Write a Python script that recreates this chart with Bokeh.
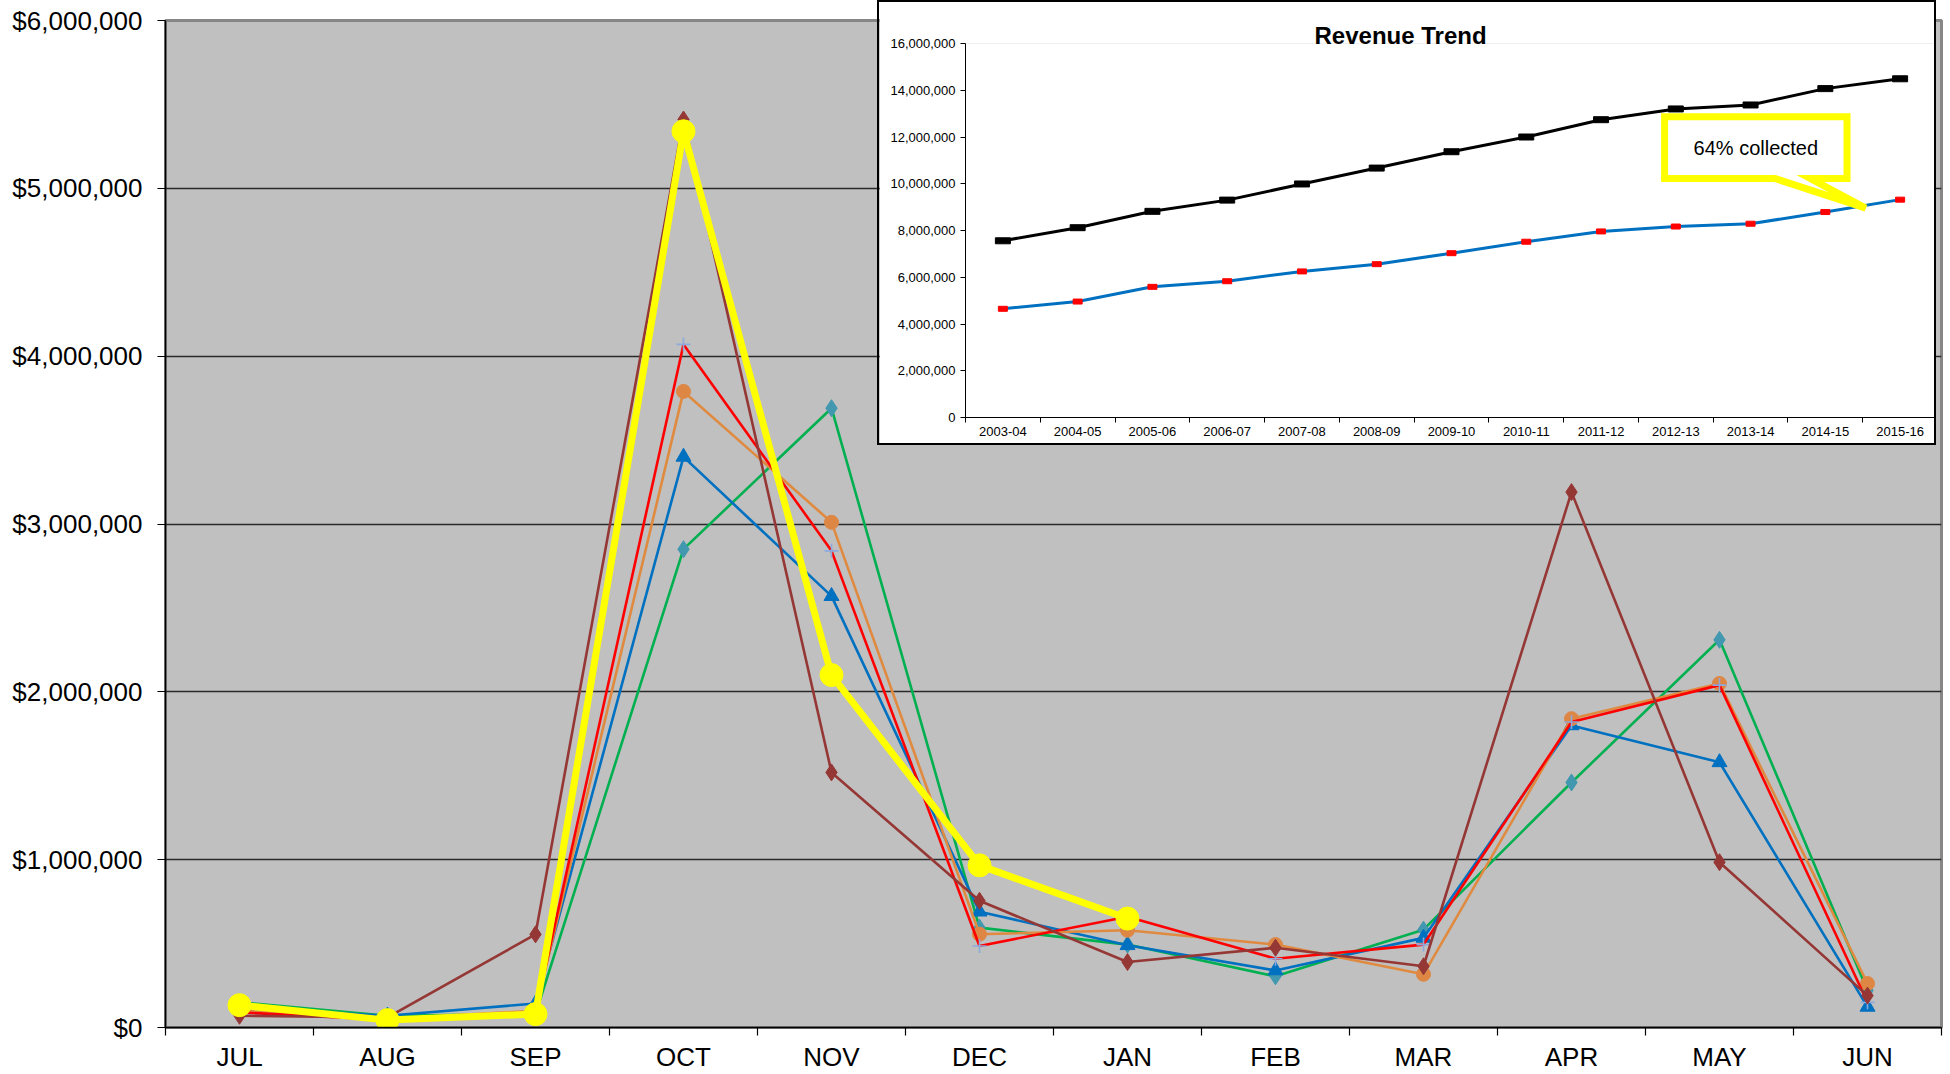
from bokeh.plotting import figure
from bokeh.models import FixedTicker, NumeralTickFormatter, GridBox, Range1d
from bokeh.core.properties import value
from bokeh.embed import file_html
from bokeh.resources import INLINE

# ---------------- main chart data (monthly receipts, $) ----------------
MONTHS = ["JUL", "AUG", "SEP", "OCT", "NOV", "DEC", "JAN", "FEB", "MAR", "APR", "MAY", "JUN"]
Y_TICKS = [0, 1000000, 2000000, 3000000, 4000000, 5000000, 6000000]

SERIES_BROWN = [70000, 60000, 555000, 5410000, 1520000, 755000, 390000, 475000, 365000, 3190000, 985000, 190000]
SERIES_BLUE = [120000, 70000, 143000, 3400000, 2570000, 690000, 490000, 340000, 534000, 1800000, 1580000, 123000]
SERIES_ORANGE = [100000, 50000, 100000, 3790000, 3010000, 556000, 579000, 494000, 317000, 1840000, 2050000, 262000]
SERIES_RED = [90000, 45000, 90000, 4070000, 2840000, 486000, 660000, 410000, 494000, 1820000, 2040000, 150000]
SERIES_GREEN = [150000, 70000, 80000, 2850000, 3690000, 595000, 494000, 305000, 583000, 1460000, 2310000, 220000]
SERIES_CURRENT = [133000, 44000, 80000, 5340000, 2100000, 966000, 649000]

# ---------------- inset data (Revenue Trend) ----------------
YEARS = ["2003-04", "2004-05", "2005-06", "2006-07", "2007-08", "2008-09", "2009-10",
         "2010-11", "2011-12", "2012-13", "2013-14", "2014-15", "2015-16"]
BILLED = [7560000, 8120000, 8820000, 9300000, 9990000, 10670000, 11370000,
          12000000, 12740000, 13200000, 13370000, 14070000, 14490000]
COLLECTED = [4650000, 4960000, 5590000, 5830000, 6250000, 6560000, 7030000,
             7520000, 7960000, 8170000, 8290000, 8790000, 9320000]
INSET_Y_TICKS = [0, 2000000, 4000000, 6000000, 8000000, 10000000, 12000000, 14000000, 16000000]
CALLOUT_TEXT = "64% collected"

FONT = "Liberation Sans"

# ---------------- main figure ----------------
p = figure(width=1950, height=1095, output_backend="svg", toolbar_location=None, title=None,
           x_range=Range1d(-0.5, len(MONTHS) - 0.5), y_range=Range1d(0, 6000000),
           min_border_left=165, min_border_right=9, min_border_top=0, min_border_bottom=47)
p.background_fill_color = "#C0C0C0"
p.border_fill_color = "white"
p.outline_line_color = "#868686"
p.outline_line_width = 3

p.xgrid.visible = False
p.ygrid.ticker = FixedTicker(ticks=Y_TICKS)
p.ygrid.grid_line_color = "#2a2a2a"
p.ygrid.grid_line_width = 1.5

p.yaxis.ticker = FixedTicker(ticks=Y_TICKS)
p.yaxis.formatter = NumeralTickFormatter(format="$0,0")
p.yaxis.major_label_text_font = FONT
p.yaxis.major_label_text_font_size = "26px"
p.yaxis.major_label_text_color = "black"
p.yaxis.major_label_standoff = 15
p.yaxis.major_tick_out = 8
p.yaxis.major_tick_in = 0
p.yaxis.minor_tick_line_color = None
p.yaxis.axis_line_color = "black"
p.yaxis.axis_line_width = 1.5
p.yaxis.major_tick_line_color = "black"

xi = list(range(len(MONTHS)))
p.xaxis.ticker = FixedTicker(ticks=xi, minor_ticks=[i - 0.5 for i in range(len(MONTHS) + 1)])
p.xaxis.major_label_overrides = {i: m for i, m in enumerate(MONTHS)}
p.xaxis.major_label_text_font = FONT
p.xaxis.major_label_text_font_size = "26px"
p.xaxis.major_label_text_color = "black"
p.xaxis.major_label_standoff = 6
p.xaxis.major_tick_out = 0
p.xaxis.major_tick_in = 0
p.xaxis.minor_tick_out = 8
p.xaxis.minor_tick_in = 0
p.xaxis.minor_tick_line_color = "black"
p.xaxis.minor_tick_line_width = 1.2
p.xaxis.axis_line_color = "black"
p.xaxis.axis_line_width = 1.5

LW = 2.6
# green line + teal diamonds
p.line(xi, SERIES_GREEN, line_color="#00B050", line_width=LW)
p.scatter(xi, SERIES_GREEN, marker="diamond", size=17, fill_color="#4198AF", line_color="#4198AF")
# blue line + triangles
p.line(xi, SERIES_BLUE, line_color="#0070C0", line_width=LW)
p.scatter(xi, SERIES_BLUE, marker="triangle", size=15, fill_color="#0070C0", line_color="#0070C0")
# orange line + circles
p.line(xi, SERIES_ORANGE, line_color="#E08A40", line_width=LW)
p.scatter(xi, SERIES_ORANGE, marker="circle", size=14, fill_color="#DE8744", line_color="#DE8744")
# red line + light-blue crosses
p.line(xi, SERIES_RED, line_color="#FF0000", line_width=LW)
p.scatter(xi, SERIES_RED, marker="cross", size=14, line_color="#8EA9DB", line_width=1.6)
# brown line + diamonds
p.line(xi, SERIES_BROWN, line_color="#953735", line_width=LW)
p.scatter(xi, SERIES_BROWN, marker="diamond", size=17, fill_color="#953735", line_color="#953735")
# current year: thick yellow
xc = list(range(len(SERIES_CURRENT)))
p.line(xc, SERIES_CURRENT, line_color="#FFFF00", line_width=7)
p.scatter(xc, SERIES_CURRENT, marker="circle", size=23, fill_color="#FFFF00", line_color="#FFFF00")

# ---------------- inset figure ----------------
q = figure(width=1059, height=445, output_backend="svg", toolbar_location=None,
           x_range=Range1d(-0.5, len(YEARS) - 0.5), y_range=Range1d(0, 16000000),
           min_border_left=86, min_border_right=1, min_border_top=41, min_border_bottom=30,
           title="Revenue Trend")
q.styles = {"border": "2px solid black", "margin-top": "21px"}
q.title.text_font = FONT
q.title.text_font_size = "24px"
q.title.text_font_style = "bold"
q.title.text_color = "black"
q.title.align = "left"
q.title.offset = 349
q.title.standoff = -11
q.background_fill_color = "white"
q.border_fill_color = "white"
q.outline_line_color = None
q.xgrid.visible = False
q.ygrid.visible = False

q.yaxis.ticker = FixedTicker(ticks=INSET_Y_TICKS)
q.yaxis.formatter = NumeralTickFormatter(format="0,0")
q.yaxis.major_label_text_font = FONT
q.yaxis.major_label_text_font_size = "13px"
q.yaxis.major_label_text_color = "black"
q.yaxis.major_label_standoff = 5
q.yaxis.major_tick_out = 5
q.yaxis.major_tick_in = 0
q.yaxis.minor_tick_line_color = None
q.yaxis.axis_line_color = "black"

yi = list(range(len(YEARS)))
q.xaxis.ticker = FixedTicker(ticks=yi, minor_ticks=[i - 0.5 for i in range(len(YEARS) + 1)])
q.xaxis.major_label_overrides = {i: y for i, y in enumerate(YEARS)}
q.xaxis.major_label_text_font = FONT
q.xaxis.major_label_text_font_size = "13px"
q.xaxis.major_label_text_color = "black"
q.xaxis.major_label_standoff = 4
q.xaxis.major_tick_out = 0
q.xaxis.major_tick_in = 0
q.xaxis.minor_tick_out = 5
q.xaxis.minor_tick_in = 0
q.xaxis.minor_tick_line_color = "black"
q.xaxis.axis_line_color = "black"

q.line(yi, BILLED, line_color="black", line_width=3)
q.rect(yi, BILLED, width=15, height=6, width_units="screen", height_units="screen",
       fill_color="black", line_color="black")
q.line(yi, COLLECTED, line_color="#0070C0", line_width=3)
q.rect(yi, COLLECTED, width=9, height=5, width_units="screen", height_units="screen",
       fill_color="#FF0000", line_color="#FF0000")

# callout bubble (annotation) pointing at the collected line between the last two years
box_l, box_r, box_t, box_b = 8.85, 11.29, 12870000, 10220000
ptr_l, ptr_r, tip_x, tip_y = 10.33, 10.80, 11.54, 8960000
q.patch([box_l, box_r, box_r, ptr_r, tip_x, ptr_l, box_l],
        [box_t, box_t, box_b, box_b, tip_y, box_b, box_b],
        fill_color="white", line_color="#FFFF00", line_width=7, line_join="miter")
q.text(x=[(box_l + box_r) / 2], y=[(box_t + box_b) / 2], text=[CALLOUT_TEXT],
       text_font=value(FONT), text_font_size="20px", text_color="black",
       text_align="center", text_baseline="middle")

# the whole grid is lifted by 21px (blank top strip of the main canvas); the inset is pushed back down
grid = GridBox(children=[(p, 0, 0, 2, 3), (q, 0, 1, 1, 1)],
               rows=["470px", "625px"], cols=["877px", "1063px", "10px"])
grid.styles = {"margin-top": "-21px"}

open("out.html", "w").write(file_html(grid, INLINE))
